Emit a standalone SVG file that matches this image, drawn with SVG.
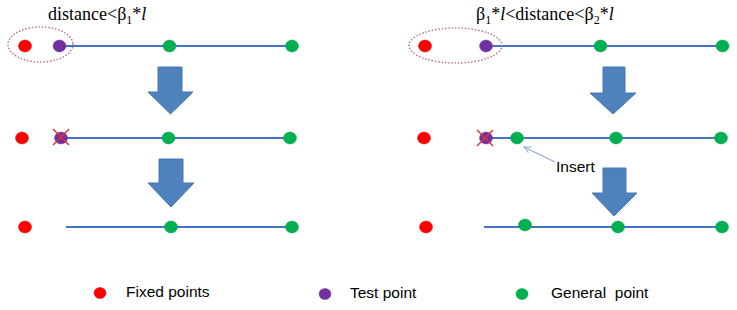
<svg xmlns="http://www.w3.org/2000/svg" width="737" height="310" viewBox="0 0 737 310">
<style>
.fix{fill:#FF0000;stroke:#E00000;stroke-width:0.5}
.tst{fill:#7030A0;stroke:#6A3AB0;stroke-width:0.5}
.gen{fill:#00B050;stroke:#00A048;stroke-width:0.5}
.ln{stroke:#4472C4;stroke-width:2;fill:none}
.big{fill:#4F81BD;stroke:#4A78B0;stroke-width:1}
.ring{fill:none;stroke:#C07070;stroke-width:1.6;stroke-dasharray:0.1 3.2;stroke-linecap:round}
.x{stroke:#E03030;stroke-width:1.4}
.ttl{font-family:"Liberation Serif",serif;font-size:18px;fill:#000}
.lbl{font-family:"Liberation Sans",Arial,sans-serif;font-size:15.5px;fill:#000}
</style>
<defs>
<marker id="open" viewBox="0 0 10 10" refX="9" refY="5" markerWidth="8" markerHeight="8" orient="auto" markerUnits="userSpaceOnUse">
<path d="M1,1 L9,5 L1,9" fill="none" stroke="#8EA9DB" stroke-width="1.2"/>
</marker>
</defs>
<rect width="737" height="310" fill="#fff"/>

<g id="left-title"><text class="ttl" x="48" y="20">distance&lt;β<tspan font-size="12" dy="4">1</tspan><tspan dy="-4">*</tspan><tspan font-style="italic">l</tspan></text></g>
<g id="right-title"><text class="ttl" x="476" y="20">β<tspan font-size="12" dy="4">1</tspan><tspan dy="-4">*</tspan><tspan font-style="italic">l</tspan>&lt;distance&lt;β<tspan font-size="12" dy="4">2</tspan><tspan dy="-4">*</tspan><tspan font-style="italic">l</tspan></text></g>

<g id="connectors">
<line class="ln" x1="59" y1="46" x2="292" y2="46"/>
<line class="ln" x1="61" y1="138" x2="290" y2="138"/>
<line class="ln" x1="66" y1="227" x2="292" y2="227"/>
<line class="ln" x1="486" y1="46" x2="722" y2="46"/>
<line class="ln" x1="486" y1="138" x2="721" y2="138"/>
<line class="ln" x1="484" y1="227" x2="722" y2="227"/>
<line x1="555" y1="162" x2="524" y2="147" stroke="#8EA9DB" stroke-width="1.2" marker-end="url(#open)"/>
</g>

<g id="left-row1">
<ellipse class="ring" cx="40.5" cy="44.5" rx="32.5" ry="17.5"/>
<ellipse class="fix" cx="25" cy="46" rx="6.5" ry="6"/>
<ellipse class="tst" cx="59.5" cy="46" rx="6.5" ry="6"/>
<ellipse class="gen" cx="169.5" cy="46" rx="6.5" ry="6"/>
<ellipse class="gen" cx="292" cy="46" rx="6.5" ry="6"/>
</g>
<g id="left-arrow1"><polygon class="big" points="158,67 182,67 182,92 193,92 170.5,114 148,92 158,92"/></g>
<g id="left-row2">
<ellipse class="fix" cx="22" cy="138" rx="6.5" ry="6"/>
<ellipse class="tst" cx="61" cy="138" rx="6.5" ry="6"/>
<line class="x" x1="53" y1="129" x2="69" y2="145"/>
<line class="x" x1="69" y1="129" x2="53" y2="145"/>
<ellipse class="gen" cx="168.5" cy="138" rx="6.5" ry="6"/>
<ellipse class="gen" cx="290" cy="138" rx="6.5" ry="6"/>
</g>
<g id="left-arrow2"><polygon class="big" points="159,159 183,159 183,183 194,183 171,207 148,183 159,183"/></g>
<g id="left-row3">
<ellipse class="fix" cx="25" cy="227" rx="6.5" ry="6"/>
<ellipse class="gen" cx="171" cy="227" rx="6.5" ry="6"/>
<ellipse class="gen" cx="292" cy="227" rx="6.5" ry="6"/>
</g>

<g id="right-row1">
<ellipse class="ring" cx="455.5" cy="45.5" rx="46.5" ry="17.5"/>
<ellipse class="fix" cx="425" cy="46" rx="6.5" ry="6"/>
<ellipse class="tst" cx="486" cy="46" rx="6.5" ry="6"/>
<ellipse class="gen" cx="600.5" cy="46" rx="6.5" ry="6"/>
<ellipse class="gen" cx="722.5" cy="46" rx="6.5" ry="6"/>
</g>
<g id="right-arrow1"><polygon class="big" points="603,67 625,67 625,93 636,93 613,114 590,93 603,93"/></g>
<g id="right-row2">
<ellipse class="fix" cx="424" cy="138" rx="6.5" ry="6"/>
<ellipse class="tst" cx="486" cy="138" rx="6.5" ry="6"/>
<line class="x" x1="477" y1="130" x2="493" y2="146"/>
<line class="x" x1="493" y1="130" x2="477" y2="146"/>
<ellipse class="gen" cx="517" cy="138" rx="6.5" ry="6"/>
<ellipse class="gen" cx="616" cy="138" rx="6.5" ry="6"/>
<ellipse class="gen" cx="721" cy="138" rx="6.5" ry="6"/>
</g>
<g id="insert-label"><text class="lbl" x="556" y="172">Insert</text></g>
<g id="right-arrow2"><polygon class="big" points="603,168 626,168 626,193 637,193 614,216 592,193 603,193"/></g>
<g id="right-row3">
<ellipse class="fix" cx="426" cy="227" rx="6.5" ry="6"/>
<ellipse class="gen" cx="525" cy="225" rx="6.5" ry="6"/>
<ellipse class="gen" cx="618" cy="227" rx="6.5" ry="6"/>
<ellipse class="gen" cx="722" cy="227" rx="6.5" ry="6"/>
</g>

<g id="legend-fixed">
<ellipse class="fix" cx="100" cy="293" rx="6" ry="5.5"/>
<text class="lbl" x="126" y="297">Fixed points</text>
</g>
<g id="legend-test">
<ellipse class="tst" cx="325" cy="294" rx="6" ry="5.5"/>
<text class="lbl" x="350" y="298">Test point</text>
</g>
<g id="legend-general">
<ellipse class="gen" cx="522" cy="294" rx="6" ry="5.5"/>
<text class="lbl" x="551" y="298" xml:space="preserve">General  point</text>
</g>
</svg>
